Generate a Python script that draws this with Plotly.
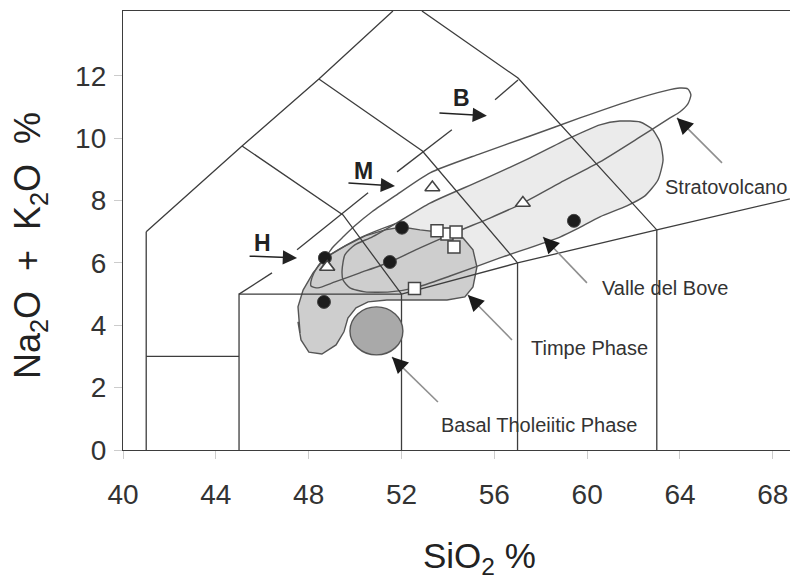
import plotly.graph_objects as go

# ---------------- data (SiO2 %, Na2O+K2O %) ----------------
X_RANGE = [40, 68.74]
Y_RANGE = [0, 14.08]
x_ticks = [40, 44, 48, 52, 56, 60, 64, 68]
y_ticks = [0, 2, 4, 6, 8, 10, 12]

# TAS field boundaries (solid)
tas_lines = [
    ([41, 41], [0, 7]),
    ([41, 45], [3, 3]),
    ([45, 45, 52], [0, 5, 5]),
    ([52, 52], [0, 5]),
    ([41, 45.13, 48.44, 51.63], [7, 9.75, 11.9, 14.08]),
    ([45.13, 49.48, 52.0], [9.75, 7.54, 5.0]),
    ([48.44, 52.9, 57.0, 57.0], [11.9, 9.59, 6.0, 0]),
    ([52.88, 57.02, 63.0, 63.0], [14.08, 11.93, 7.06, 0]),
    ([52.0, 57.0, 63.0, 69.0], [5.0, 6.0, 7.06, 8.1]),
]
# alkaline / subalkaline divider (broken where H, M, B point)
dash_x = [[45.0, 46.42], [47.5, 50.56], [51.81, 54.17], [56.03, 57.02]]
dash_y = [[5.0, 5.68], [6.42, 8.25], [8.92, 10.27], [11.23, 11.87]]

# Envelopes
timpe_x = [47.63, 47.54, 47.76, 48.19, 48.70, 49.56, 50.43, 51.29, 52.02, 52.80, 53.96, 54.65,
           55.08, 55.25, 55.08, 54.73, 53.96, 52.49, 51.37, 50.56, 50.04, 49.69, 49.52, 49.18,
           48.57, 48.01, 47.67, 47.54, 47.63]
timpe_y = [3.75, 4.59, 5.13, 5.68, 6.16, 6.54, 6.87, 7.06, 7.15, 7.06, 6.96, 6.80,
           6.42, 5.87, 5.23, 4.91, 4.81, 4.81, 4.81, 4.75, 4.56, 4.23, 3.79, 3.37,
           3.08, 3.14, 3.53, 4.11, 3.75]

vdb_x = [49.44, 49.56, 49.99, 50.73, 51.72, 53.23, 55.38, 57.54, 59.26, 60.55, 61.41, 62.28,
         62.79, 63.14, 63.27, 63.05, 62.49, 61.71, 60.55, 59.56, 58.83, 56.24, 54.09, 52.58,
         51.50, 50.43, 49.78, 49.48, 49.44]
vdb_y = [5.77, 6.26, 6.58, 6.83, 7.25, 7.92, 8.63, 9.37, 10.01, 10.43, 10.55, 10.52,
         10.30, 9.88, 9.30, 8.66, 8.15, 7.83, 7.48, 7.09, 6.83, 6.16, 5.58, 5.20,
         5.07, 5.07, 5.20, 5.45, 5.77]
vdb_link_x = [48.70, 50.21, 51.72]
vdb_link_y = [6.16, 6.80, 7.25]

strato_x = [48.70, 49.05, 49.48, 49.99, 50.73, 51.72, 53.23, 55.38, 57.54, 59.69, 61.84, 63.35,
            63.99, 64.34, 64.47, 64.34, 63.99, 63.57, 62.28, 60.55, 58.83, 57.23, 55.81, 54.35,
            52.80, 51.50, 50.21, 49.13, 48.40, 48.10, 48.14, 48.40, 48.70]
strato_y = [6.16, 6.51, 6.83, 7.19, 7.64, 8.15, 8.89, 9.50, 10.07, 10.65, 11.20, 11.52,
            11.61, 11.58, 11.39, 11.10, 10.84, 10.65, 10.04, 9.24, 8.57, 7.92, 7.44, 6.99,
            6.48, 6.03, 5.68, 5.39, 5.20, 5.26, 5.52, 5.90, 6.16]

# Basal Tholeiitic Phase (ellipse: centre and half-widths)
basal_cx, basal_cy, basal_rx, basal_ry = 50.92, 3.82, 1.14, 0.77

# Samples
circle_x = [48.70, 52.02, 51.50, 48.66, 59.43]
circle_y = [6.16, 7.13, 6.03, 4.75, 7.35]
triangle_x = [48.80, 53.33, 57.23]
triangle_y = [5.87, 8.42, 7.92]
square_x = [53.96, 53.53, 54.35, 54.26, 52.56]
square_y = [6.93, 7.03, 6.99, 6.51, 5.18]

# Series labels H, M, B with arrows
hmb_text = ["H", "M", "B"]
hmb_text_x = [46.03, 50.38, 54.60]
hmb_text_y = [6.64, 8.95, 11.29]
hmb_tail_x = [45.39, 49.65, 53.57]
hmb_tail_y = [6.22, 8.57, 10.81]
hmb_head_x = [47.50, 51.72, 55.68]
hmb_head_y = [6.16, 8.47, 10.72]

# Field labels with pointers
field_text = ["Stratovolcano", "Valle del Bove", "Timpe Phase", "Basal Tholeiitic Phase"]
field_text_x = [66.00, 63.37, 60.10, 57.94]
field_text_y = [8.44, 5.20, 3.27, 0.80]
ptr_tail_x = [65.81, 59.99, 56.76, 53.57]
ptr_tail_y = [9.21, 5.36, 3.53, 1.54]
ptr_head_x = [63.87, 58.10, 54.86, 51.59]
ptr_head_y = [10.65, 6.83, 4.97, 2.98]

# ---------------- figure ----------------
W, H = 790, 578
ML, MR, MT, MB = 123, 0, 11, 128
px_x = (W - ML - MR) / (X_RANGE[1] - X_RANGE[0])
px_y = (H - MT - MB) / (Y_RANGE[1] - Y_RANGE[0])

LINE = "#3d3d3d"
FONT = "Liberation Sans, Arial, sans-serif"

fig = go.Figure()

# Valle del Bove fill (lightest)
fig.add_trace(go.Scatter(x=vdb_x, y=vdb_y, mode="lines", fill="toself",
                         fillcolor="#ebebeb", line=dict(color="rgba(0,0,0,0)", width=0),
                         hoverinfo="skip", showlegend=False))
# Timpe Phase fill
fig.add_trace(go.Scatter(x=timpe_x, y=timpe_y, mode="lines", fill="toself",
                         fillcolor="#cecece", line=dict(color="#555555", width=1.4),
                         hoverinfo="skip", showlegend=False))
# Valle del Bove outline
fig.add_trace(go.Scatter(x=vdb_x, y=vdb_y, mode="lines",
                         line=dict(color="#555555", width=1.4, shape="spline", smoothing=0.6),
                         hoverinfo="skip", showlegend=False))
fig.add_trace(go.Scatter(x=vdb_link_x, y=vdb_link_y, mode="lines",
                         line=dict(color="#555555", width=1.4, shape="spline"),
                         hoverinfo="skip", showlegend=False))
# Stratovolcano outline
fig.add_trace(go.Scatter(x=strato_x, y=strato_y, mode="lines",
                         line=dict(color="#555555", width=1.4, shape="spline", smoothing=0.6),
                         hoverinfo="skip", showlegend=False))

# TAS lines
for lx, ly in tas_lines:
    fig.add_trace(go.Scatter(x=lx, y=ly, mode="lines", line=dict(color=LINE, width=1.3),
                             hoverinfo="skip", showlegend=False))
for lx, ly in zip(dash_x, dash_y):
    fig.add_trace(go.Scatter(x=lx, y=ly, mode="lines", line=dict(color=LINE, width=1.3),
                             hoverinfo="skip", showlegend=False))

# Pointer shafts (gray)
for ax_, ay_, hx, hy in zip(ptr_tail_x, ptr_tail_y, ptr_head_x, ptr_head_y):
    fig.add_trace(go.Scatter(x=[ax_, hx], y=[ay_, hy], mode="lines",
                             line=dict(color="#8f8f8f", width=1.6),
                             hoverinfo="skip", showlegend=False))

# Basal circle
fig.add_shape(type="circle", xref="x", yref="y",
              x0=basal_cx - basal_rx, x1=basal_cx + basal_rx,
              y0=basal_cy - basal_ry, y1=basal_cy + basal_ry,
              fillcolor="#a9a9a9", line=dict(color="#555555", width=1.4), layer="above")

# Markers
fig.add_trace(go.Scatter(x=square_x, y=square_y, mode="markers",
                         marker=dict(symbol="square", size=12, color="white",
                                     line=dict(color="#444444", width=1.5)),
                         showlegend=False))
fig.add_trace(go.Scatter(x=triangle_x, y=triangle_y, mode="markers",
                         marker=dict(symbol="triangle-up", size=13, color="white",
                                     line=dict(color="#444444", width=1.5)),
                         showlegend=False))
fig.add_trace(go.Scatter(x=circle_x, y=circle_y, mode="markers",
                         marker=dict(symbol="circle", size=13, color="#1c1c1c",
                                     line=dict(color="#444444", width=1)),
                         showlegend=False))
fig.add_trace(go.Scatter(x=triangle_x[:1], y=triangle_y[:1], mode="markers",
                         marker=dict(symbol="triangle-up", size=13, color="white",
                                     line=dict(color="#444444", width=1.5)),
                         showlegend=False))

ann = []
# H / M / B
for t, tx, ty, ax_, ay_, hx, hy in zip(hmb_text, hmb_text_x, hmb_text_y,
                                       hmb_tail_x, hmb_tail_y, hmb_head_x, hmb_head_y):
    ann.append(dict(x=tx, y=ty, xref="x", yref="y", text="<b>%s</b>" % t, showarrow=False,
                    font=dict(size=23, color="#222222", family=FONT)))
    ann.append(dict(x=hx, y=hy, ax=ax_, ay=ay_, xref="x", yref="y", axref="x", ayref="y",
                    text="", showarrow=True, arrowhead=2, arrowsize=1.9, arrowwidth=1.5,
                    arrowcolor="#222222", standoff=0))

# field labels + black pointer heads
for t, tx, ty, ax_, ay_, hx, hy in zip(field_text, field_text_x, field_text_y,
                                       ptr_tail_x, ptr_tail_y, ptr_head_x, ptr_head_y):
    ann.append(dict(x=tx, y=ty, xref="x", yref="y", text=t, showarrow=False,
                    font=dict(size=20, color="#333333", family=FONT)))
    dx = (ax_ - hx) * px_x
    dy = -(ay_ - hy) * px_y
    n = (dx * dx + dy * dy) ** 0.5
    ann.append(dict(x=hx, y=hy, ax=dx / n * 15, ay=dy / n * 15, xref="x", yref="y",
                    text="", showarrow=True, arrowhead=2, arrowsize=2.0, arrowwidth=1.6,
                    arrowcolor="#1a1a1a", standoff=0))

# axis titles
ann.append(dict(x=(480 - ML) / (W - ML - MR), y=-(558 - (H - MB)) / (H - MT - MB),
                xref="paper", yref="paper", text="SiO<sub>2</sub> %", showarrow=False,
                xanchor="center", yanchor="middle",
                font=dict(size=35, color="#222222", family=FONT)))
ann.append(dict(x=-(ML - 30) / (W - ML - MR), y=((H - MB) - 246) / (H - MT - MB),
                xref="paper", yref="paper", text="Na<sub>2</sub>O  +  K<sub>2</sub>O  %",
                showarrow=False, textangle=-90, xanchor="center", yanchor="middle",
                font=dict(size=36, color="#222222", family=FONT)))

fig.update_layout(
    width=W, height=H, margin=dict(l=ML, r=MR, t=MT, b=MB),
    paper_bgcolor="white", plot_bgcolor="white",
    annotations=ann, showlegend=False,
    font=dict(family=FONT),
    xaxis=dict(range=X_RANGE, tickvals=x_ticks, ticks="outside", ticklen=8,
               tickcolor="#cccccc", tickwidth=1, showline=True, linecolor=LINE, linewidth=1.3,
               mirror=True, showgrid=False, zeroline=False, ticklabelstandoff=11,
               tickfont=dict(size=28, color="#333333", family=FONT)),
    yaxis=dict(range=Y_RANGE, tickvals=y_ticks, ticks="outside", ticklen=8,
               tickcolor="#cccccc", tickwidth=1, showline=True, linecolor=LINE, linewidth=1.3,
               mirror=False, showgrid=False, zeroline=False, ticklabelstandoff=2,
               tickfont=dict(size=28, color="#333333", family=FONT)),
)

fig.write_html("out.html")
